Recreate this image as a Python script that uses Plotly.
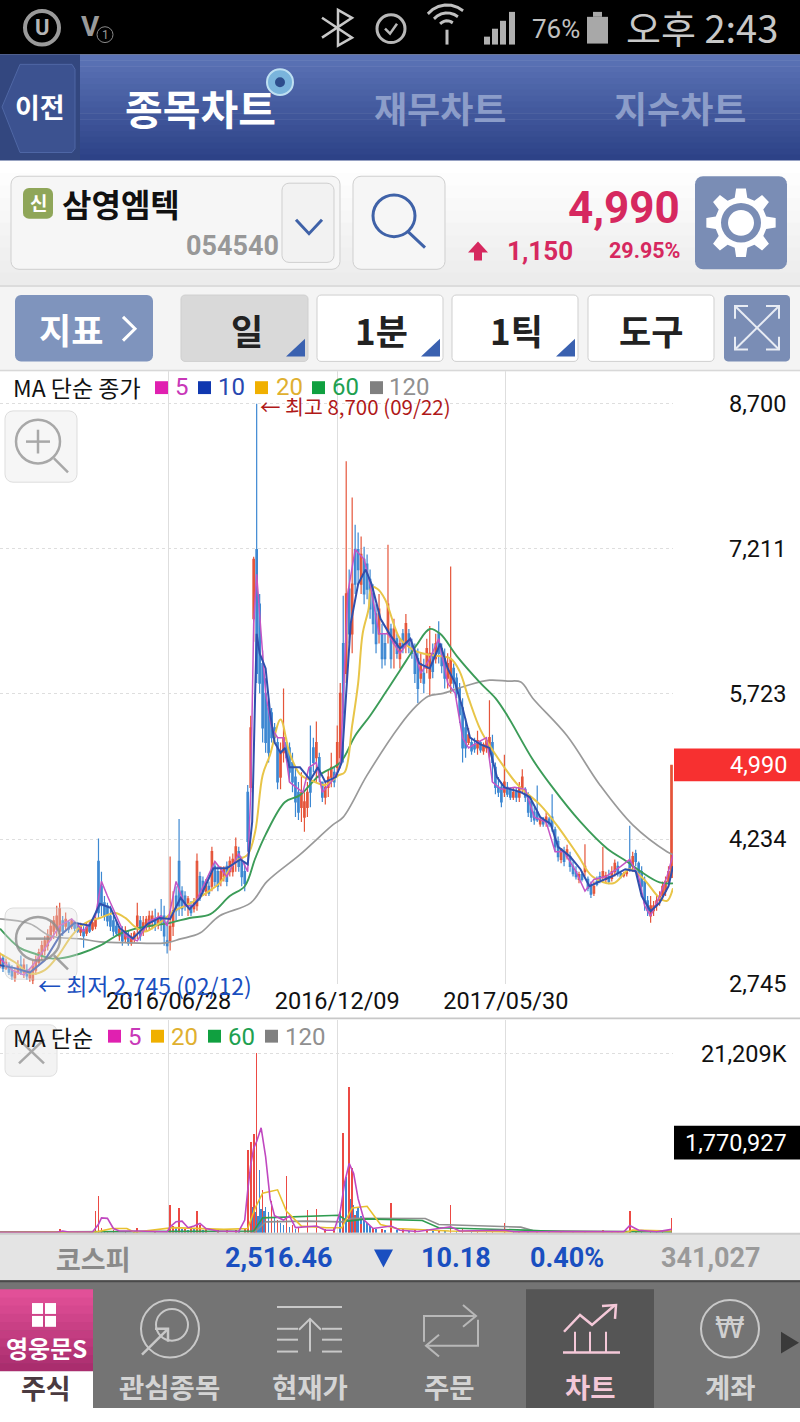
#!/usr/bin/env python3
# -*- coding: utf-8 -*-
import math

import plotly.graph_objects as go

KR = "Noto Sans CJK KR"
NUM = "Roboto, Noto Sans CJK KR"

# daily candles, one every second trading day
candle_days = list(range(0, 452, 2))
opens = [
    2940, 3010, 2910, 2940, 2890, 2810, 2870, 2940, 2870, 2890,
    2810, 2790, 2890, 2970, 3040, 3090, 3140, 3210, 3290, 3310,
    3290, 3395, 3340, 3380, 3340, 3380, 3355, 3280, 3290, 3270,
    3355, 3310, 3340, 4005, 3750, 3580, 3550, 3445, 3395, 3340,
    3240, 3290, 3210, 3240, 3170, 3210, 3340, 3395, 3290, 3340,
    3340, 3395, 3410, 3355, 3445, 3445, 3190, 3190, 3340, 3650,
    4005, 3700, 3650, 3550, 3550, 3520, 3550, 3850, 3800, 3700,
    3750, 3750, 3955, 3900, 3800, 3850, 3955, 3900, 3900, 4005,
    4105, 4005, 3900, 4715, 4765, 6495, 7205, 6645, 6035, 5730,
    5580, 5530, 5375, 5225, 4870, 5120, 5225, 5170, 5020, 4870,
    4715, 4560, 4460, 4560, 4970, 5170, 5070, 5070, 4820, 4665,
    4765, 4870, 4920, 4970, 5070, 6240, 5935, 6800, 6340, 7205,
    7205, 6850, 7105, 7055, 6900, 6750, 6545, 6340, 6340, 6240,
    6340, 6390, 6240, 6290, 6085, 6340, 6240, 6340, 6240, 6140,
    6085, 5885, 5935, 5985, 5885, 6140, 6085, 6340, 6190, 6085,
    5885, 5835, 5985, 5885, 5780, 5580, 5375, 5225, 5225, 5200,
    5170, 5225, 5140, 5170, 5120, 5225, 4970, 4765, 4765, 4715,
    4765, 4745, 4665, 4715, 4665, 4765, 4745, 4665, 4615, 4510,
    4510, 4390, 4430, 4410, 4440, 4460, 4330, 4210, 4025, 4105,
    4055, 4055, 3955, 3900, 3820, 3870, 3900, 3820, 3770, 3680,
    3800, 3850, 3850, 3820, 3850, 3830, 3900, 3955, 3880, 3860,
    3880, 4005, 3955, 4085, 3985, 3900, 3800, 3600, 3445, 3500,
    3550, 3600, 3650, 3700, 3800, 3840,
]
highs = [
    3070, 3040, 3010, 2970, 2940, 2910, 2990, 3040, 3010, 2950,
    2910, 2990, 3040, 3110, 3190, 3240, 3310, 3395, 3445, 3550,
    3580, 3445, 3480, 3395, 3420, 3395, 3375, 3375, 3340, 3375,
    3395, 3420, 3445, 4240, 3900, 3650, 3580, 3550, 3445, 3395,
    3340, 3340, 3340, 3290, 3270, 3290, 3580, 3445, 3445, 3445,
    3500, 3500, 3520, 3480, 3620, 3550, 3395, 4055, 3700, 3750,
    4440, 3750, 3700, 3650, 3600, 3630, 4085, 3900, 3850, 3825,
    3800, 4155, 4005, 3955, 3955, 3955, 4005, 4055, 4085, 4250,
    4155, 4055, 4005, 4790, 5500, 7130, 8700, 6750, 6170, 5885,
    5680, 5580, 5425, 5275, 5225, 5780, 5275, 5225, 5120, 4970,
    4820, 4920, 4715, 4820, 5400, 5275, 5440, 5120, 4820, 4820,
    4940, 5120, 4970, 5400, 5835, 6730, 8110, 7000, 7740, 7460,
    7380, 7340, 7235, 7155, 7000, 6850, 6645, 6750, 6445, 6340,
    7255, 6445, 6495, 6340, 6290, 6390, 6545, 6390, 6290, 6240,
    6190, 6140, 6085, 6290, 6420, 6240, 6340, 6470, 6240, 6190,
    6140, 7030, 6035, 5935, 5835, 5680, 5475, 5375, 5275, 5275,
    5345, 5245, 5225, 5275, 5660, 5305, 5020, 4870, 4820, 5100,
    4820, 4765, 4765, 4765, 4820, 4950, 4765, 4715, 4665, 4560,
    4785, 4460, 4460, 4510, 4460, 4695, 4360, 4260, 4135, 4155,
    4175, 4105, 4005, 3955, 3900, 3900, 4180, 3850, 3800, 3800,
    3850, 3900, 4155, 3900, 3920, 3955, 4025, 4005, 3900, 3900,
    3920, 4370, 4105, 4125, 4005, 3955, 3850, 3650, 3650, 3600,
    3650, 3700, 3800, 3850, 3955, 4990,
]
lows = [
    2910, 2870, 2890, 2840, 2790, 2770, 2840, 2840, 2810, 2790,
    2770, 2745, 2840, 2940, 2990, 3040, 3090, 3190, 3210, 3240,
    3240, 3240, 3290, 3270, 3310, 3290, 3270, 3240, 3120, 3240,
    3270, 3290, 3310, 3425, 3445, 3395, 3340, 3290, 3240, 3240,
    3190, 3140, 3170, 3140, 3140, 3170, 3210, 3190, 3240, 3290,
    3290, 3310, 3290, 3310, 3290, 3140, 3060, 3090, 3240, 3395,
    3445, 3445, 3500, 3445, 3445, 3480, 3500, 3600, 3650, 3650,
    3650, 3700, 3750, 3700, 3750, 3800, 3750, 3850, 3850, 3900,
    3900, 3750, 3700, 4105, 4715, 6260, 5835, 5730, 5225, 5120,
    5020, 5225, 5225, 4745, 4745, 5020, 5070, 4820, 4715, 4460,
    4430, 4410, 4310, 4460, 4560, 4920, 4820, 4820, 4615, 4590,
    4665, 4765, 4765, 4870, 4970, 5020, 5835, 6240, 6140, 6750,
    6850, 6750, 6645, 6695, 6495, 6340, 6140, 6240, 5985, 6015,
    6240, 5985, 5985, 6085, 5985, 6140, 6140, 6140, 6085, 5835,
    5630, 5835, 5730, 5935, 5700, 5885, 6035, 6035, 5935, 5780,
    5780, 5730, 5780, 5680, 5425, 5020, 5070, 5200, 5100, 5120,
    5100, 5120, 5100, 5120, 5070, 4820, 4695, 4665, 4560, 4665,
    4665, 4635, 4635, 4615, 4615, 4715, 4615, 4460, 4410, 4380,
    4410, 4360, 4360, 4360, 4360, 4310, 4105, 4005, 3985, 3955,
    4025, 3900, 3850, 3820, 3780, 3800, 3850, 3700, 3630, 3650,
    3750, 3780, 3800, 3780, 3770, 3800, 3850, 3850, 3830, 3840,
    3850, 3900, 3900, 3955, 3850, 3700, 3500, 3445, 3375, 3445,
    3500, 3550, 3600, 3650, 3750, 3840,
]
closes = [
    3010, 2910, 2970, 2870, 2830, 2870, 2940, 2870, 2940, 2830,
    2870, 2930, 2990, 3070, 3140, 3190, 3240, 3340, 3395, 3445,
    3520, 3290, 3410, 3310, 3395, 3320, 3290, 3340, 3240, 3330,
    3290, 3375, 3410, 3480, 3550, 3445, 3395, 3340, 3290, 3270,
    3310, 3190, 3290, 3170, 3230, 3270, 3445, 3240, 3375, 3410,
    3445, 3445, 3340, 3430, 3375, 3240, 3140, 3340, 3500, 3500,
    3550, 3520, 3580, 3620, 3480, 3580, 4005, 3650, 3700, 3780,
    3680, 4105, 3800, 3750, 3900, 3920, 3800, 4005, 4025, 4155,
    3955, 3850, 3780, 4210, 5375, 7105, 5935, 5835, 5375, 5225,
    5120, 5275, 5275, 4820, 5120, 5275, 5070, 4920, 4820, 4615,
    4510, 4715, 4615, 4715, 4715, 5020, 5225, 4870, 4665, 4765,
    4870, 4970, 4820, 5225, 5730, 5530, 6750, 6340, 6850, 6850,
    7000, 7155, 6750, 6800, 6595, 6445, 6240, 6595, 6085, 6085,
    6645, 6085, 6390, 6140, 6240, 6190, 6445, 6220, 6140, 5935,
    5780, 6035, 5835, 6190, 6140, 5955, 6240, 6140, 6015, 5885,
    6035, 6085, 5835, 5730, 5510, 5170, 5170, 5305, 5140, 5160,
    5245, 5150, 5200, 5245, 5275, 5020, 4765, 4715, 4615, 4820,
    4695, 4665, 4715, 4665, 4765, 4870, 4665, 4510, 4460, 4430,
    4430, 4430, 4390, 4460, 4390, 4360, 4155, 4055, 4135, 4005,
    4125, 3955, 3880, 3850, 3870, 3820, 3955, 3730, 3670, 3750,
    3770, 3810, 3900, 3860, 3800, 3900, 3985, 3880, 3850, 3880,
    3900, 3920, 4055, 4005, 3880, 3750, 3580, 3500, 3550, 3550,
    3600, 3650, 3750, 3800, 3900, 4990,
]

# moving averages on price
ma5_days = [0, 8, 16, 22, 30, 40, 48, 56, 64, 68, 72, 78, 84, 92, 100, 108, 112, 118, 124, 130,
            136, 144, 152, 160, 166, 168, 170, 172, 175, 178, 182, 186, 190, 194, 198, 203, 207, 212, 216, 222,
            228, 230, 233, 238, 244, 248, 254, 260, 268, 275, 282, 288, 294, 300, 305, 310, 314, 320, 326, 330,
            336, 345, 352, 358, 366, 372, 378, 386, 392, 398, 406, 416, 422, 428, 432, 436, 442, 447, 451]
ma5_vals = [3010, 2890, 2840, 2940, 3110, 3345, 3415, 3290, 3445, 3800, 3650, 3445, 3240, 3190, 3395, 3445, 3345, 3800, 3550, 3550,
            3750, 4005, 3850, 4085, 3900, 4715, 6445, 6950, 6340, 5730, 5375, 5275, 5275, 4820, 4770, 4715, 4970, 5020, 4715, 4820,
            4970, 5730, 6750, 7205, 7105, 6850, 6340, 6340, 6140, 6290, 5935, 6085, 6290, 5835, 5730, 5275, 5170, 5225, 5275, 4820,
            4745, 4765, 4745, 4460, 4410, 4105, 4105, 3900, 3700, 3820, 3850, 3955, 4025, 3850, 3550, 3445, 3650, 3850, 4075]

ma10_days = [0, 10, 20, 30, 40, 50, 60, 67, 74, 80, 89, 99, 107, 114, 121, 127, 134, 143, 152, 161,
             166, 169, 171, 172, 174, 178, 181, 184, 188, 191, 194, 201, 208, 213, 218, 225, 229, 231, 235, 240,
             245, 249, 255, 261, 268, 275, 281, 288, 295, 300, 305, 310, 315, 322, 328, 333, 338, 349, 355, 362,
             369, 374, 382, 389, 395, 402, 410, 419, 426, 430, 436, 442, 448, 451]
ma10_vals = [2940, 2910, 2865, 2990, 3240, 3375, 3345, 3570, 3530, 3325, 3215, 3365, 3425, 3415, 3630, 3515, 3630, 3935, 3935, 4025,
             3975, 4410, 5730, 6340, 6140, 5985, 5530, 5225, 5120, 5170, 4970, 4970, 4840, 4970, 4820, 4870, 5020, 5530, 6445, 6850,
             7000, 6850, 6495, 6340, 6190, 6290, 6035, 5985, 6240, 5985, 5835, 5580, 5275, 5205, 5170, 4870, 4765, 4715, 4665, 4460,
             4390, 4155, 4055, 3925, 3750, 3800, 3850, 3925, 3905, 3650, 3495, 3580, 3750, 3955]

ma20_days = [0, 10, 20, 30, 40, 47, 54, 60, 67, 77, 84, 90, 97, 107, 117, 127, 137, 147, 158, 166,
             171, 176, 181, 188, 194, 201, 208, 218, 227, 231, 236, 240, 243, 247, 249, 253, 258, 265, 268, 279,
             290, 302, 308, 314, 322, 330, 347, 362, 373, 387, 397, 411, 422, 431, 442, 447, 451]
ma20_vals = [3060, 2970, 2855, 2890, 3060, 3220, 3340, 3395, 3425, 3475, 3425, 3340, 3285, 3375, 3500, 3570, 3670, 3780, 4005, 4075,
             4310, 4890, 5100, 5460, 5120, 4900, 4840, 4790, 4890, 4920, 5400, 5835, 6340, 6595, 6820, 6800, 6695, 6390, 6290, 6160,
             6120, 6085, 5955, 5680, 5355, 5150, 4790, 4585, 4380, 4075, 3850, 3780, 3925, 3830, 3630, 3600, 3730]

ma60_days = [0, 13, 23, 34, 40, 54, 67, 80, 94, 114, 127, 141, 154, 164, 171, 178, 191, 201, 214, 228,
             238, 248, 258, 268, 279, 288, 295, 306, 322, 332, 340, 357, 369, 389, 407, 420, 429, 442, 451]
ma60_vals = [3315, 3120, 3060, 3010, 3010, 3060, 3140, 3260, 3325, 3375, 3425, 3465, 3650, 3750, 4035, 4280, 4615, 4685, 4890, 5020,
             5295, 5500, 5730, 5965, 6220, 6390, 6340, 6115, 5835, 5680, 5500, 5050, 4790, 4410, 4135, 4005, 3905, 3790, 3780]

ma120_days = [0, 20, 34, 54, 67, 87, 111, 121, 134, 147, 168, 179, 201, 223, 230, 246, 268, 279, 287, 297,
              313, 328, 340, 349, 357, 380, 402, 424, 447, 451]
ma120_vals = [3415, 3365, 3240, 3210, 3180, 3170, 3170, 3210, 3270, 3445, 3580, 3800, 4075, 4380, 4460, 4890, 5400, 5600, 5700, 5730,
              5810, 5865, 5855, 5845, 5680, 5295, 4790, 4380, 4105, 4075]

price_ticks = [2745, 4234, 5723, 7211, 8700]
price_tick_text = ["2,745", "4,234", "5,723", "7,211", "8,700"]
date_ticks = [113, 226, 339]
date_tick_text = ["2016/06/28", "2016/12/09", "2017/05/30"]

# volume, thousand shares
red_vol_days = [30, 40, 52, 64, 66, 68, 72, 76, 84, 92, 104, 114, 116, 120, 124, 128, 132, 134, 138, 146,
                152, 158, 164, 166, 168, 170, 172, 176, 178, 182, 186, 192, 196, 200, 206, 212, 218, 224, 230, 234,
                236, 238, 242, 250, 256, 262, 270, 278, 286, 294, 302, 310, 320, 330, 338, 348, 360, 376, 392, 404,
                414, 422, 426, 436, 444, 450]
red_vol = [150, 390, 120, 2540, 4300, 600, 250, 300, 180, 590, 150, 3320, 800, 2930, 500, 700, 2540, 900, 600, 300,
           350, 300, 500, 9770, 10740, 11720, 21209, 5000, 2000, 3710, 1500, 6760, 900, 700, 2730, 2850, 500, 600, 11800, 17190,
           7620, 2150, 1000, 600, 500, 3520, 500, 300, 400, 300, 3320, 400, 300, 200, 1170, 200, 250, 200, 150, 300,
           200, 2540, 300, 150, 200, 1771]
blue_vol_days = [60, 70, 90, 118, 122, 126, 130, 136, 160, 169, 171, 173, 174, 175, 176, 177, 178, 180, 182, 184,
                 186, 188, 190, 192, 194, 198, 228, 230, 232, 234, 235, 237, 239, 240, 242, 244, 246, 248, 252, 258,
                 266, 274, 290, 298, 306, 316, 326, 344, 354, 368, 384, 410, 430, 440]
blue_vol = [100, 300, 200, 600, 400, 300, 400, 300, 200, 3000, 2400, 2000, 7420, 2800, 3300, 2600, 3000, 2500, 2200, 1800,
            1300, 1100, 900, 800, 700, 500, 2500, 3000, 6640, 3000, 4000, 3300, 2600, 2900, 2000, 1700, 1200, 800, 500, 300,
            300, 200, 300, 200, 200, 150, 150, 150, 120, 120, 100, 150, 200, 100]

vol_ma5_days = [0, 38, 42, 46, 62, 66, 68, 72, 76, 80, 92, 112, 114, 118, 122, 126, 130, 134, 138, 146,
                160, 164, 166, 168, 170, 172, 175, 178, 181, 184, 190, 194, 198, 206, 212, 218, 224, 228, 231, 234,
                237, 240, 244, 250, 262, 268, 280, 302, 308, 338, 345, 418, 422, 428, 440, 450]
vol_ma5 = [60, 60, 200, 80, 100, 1000, 1760, 1700, 500, 200, 200, 100, 700, 1300, 1370, 600, 800, 1100, 500, 200,
           150, 1500, 5000, 8000, 10000, 10800, 12420, 9000, 4000, 2000, 1500, 2000, 600, 700, 800, 300, 300, 2500, 6000, 8200,
           7000, 4000, 1500, 500, 800, 300, 150, 700, 200, 300, 100, 100, 860, 300, 100, 400]
vol_ma20_days = [0, 65, 75, 85, 90, 116, 150, 166, 171, 176, 186, 192, 202, 219, 229, 236, 246, 255, 266, 301,
                 340, 420, 424, 437, 450]
vol_ma20 = [50, 100, 500, 500, 60, 600, 400, 500, 2930, 4690, 5080, 2540, 780, 590, 590, 2930, 3125, 980, 500, 200,
            100, 50, 310, 270, 200]
vol_ma60_days = [0, 65, 170, 176, 218, 227, 233, 246, 283, 294, 352, 376, 450]
vol_ma60 = [80, 100, 200, 1760, 2070, 2070, 1370, 1640, 1440, 590, 310, 120, 100]
vol_ma120_days = [0, 171, 178, 205, 229, 236, 285, 294, 349, 357, 450]
vol_ma120 = [60, 120, 1290, 1370, 1290, 1720, 1680, 980, 660, 270, 120]


def X(x):
    return x / 800


def Y(y):
    return 1 - y / 1422


shapes = []
annotations = []


def rect(x0, y0, x1, y1, fill, line=None, lw=1):
    shapes.append(dict(type="rect", xref="paper", yref="paper", x0=X(x0), x1=X(x1), y0=Y(y0), y1=Y(y1),
                       fillcolor=fill, line=dict(color=line or fill, width=lw if line else 0)))


def circle(cx, cy, r, fill="rgba(0,0,0,0)", line=None, lw=2):
    shapes.append(dict(type="circle", xref="paper", yref="paper", x0=X(cx - r), x1=X(cx + r), y0=Y(cy - r), y1=Y(cy + r),
                       fillcolor=fill, line=dict(color=line or fill, width=lw if line else 0)))


def poly(points, fill=None, line=None, lw=2):
    d = "M" + " L".join("%.5f %.5f" % (X(a), Y(b)) for a, b in points)
    if fill:
        d += " Z"
    shapes.append(dict(type="path", xref="paper", yref="paper", path=d, fillcolor=fill or "rgba(0,0,0,0)",
                       line=dict(color=line or fill, width=lw if line else 0)))


def rrect(x0, y0, x1, y1, r, fill, line=None, lw=1):
    pts = []
    for cx, cy, start in [(x1 - r, y0 + r, -90), (x1 - r, y1 - r, 0), (x0 + r, y1 - r, 90), (x0 + r, y0 + r, 180)]:
        for k in range(5):
            t = math.radians(start + k * 22.5)
            pts.append((cx + r * math.cos(t), cy + r * math.sin(t)))
    d = "M" + " L".join("%.5f %.5f" % (X(a), Y(b)) for a, b in pts) + " Z"
    shapes.append(dict(type="path", xref="paper", yref="paper", path=d, fillcolor=fill,
                       line=dict(color=line or fill, width=lw if line else 0)))


def grad(x0, y0, x1, y1, c0, c1, n=12):
    for k in range(n):
        f = k / (n - 1)
        col = "rgb(%d,%d,%d)" % tuple(round(a + (b - a) * f) for a, b in zip(c0, c1))
        rect(x0, y0 + (y1 - y0) * k / n, x1, y0 + (y1 - y0) * (k + 1) / n + 0.5, col)


def text(x, y, s, size=20, color="#111", anchor="center", bold=False, family=KR):
    annotations.append(dict(xref="paper", yref="paper", x=X(x), y=Y(y), text="<b>%s</b>" % s if bold else s,
                            showarrow=False, xanchor=anchor, yanchor="middle",
                            font=dict(family=family, size=size, color=color), borderpad=0, borderwidth=0))


# status bar
rect(0, 0, 800, 55, "#000000")
circle(42, 28, 17, line="#9a9a9a", lw=4)
text(42, 28, "U", 22, "#b5b5b5", bold=True, family=NUM)
text(90, 27, "V", 28, "#9a9a9a", bold=True, family=NUM)
circle(105, 35, 8, line="#8a8a8a", lw=1)
text(105, 35, "1", 12, "#9a9a9a", family=NUM)
poly([(322, 18), (352, 38), (338, 46), (338, 10), (352, 18), (322, 38)], line="#c8c8c8", lw=2.5)
circle(391, 29, 14, line="#b8b8b8", lw=3)
poly([(385, 29), (390, 34), (397, 24)], line="#b8b8b8", lw=2.5)
for r in (9, 17, 25):
    poly([(447 + r * math.cos(math.radians(a)), 30 + r * math.sin(math.radians(a))) for a in range(220, 325, 15)],
         line="#c0c0c0", lw=3)
poly([(447, 30), (447, 45)], line="#c0c0c0", lw=3)
for bx, bh in [(484, 8), (492, 16), (500, 24), (509, 33)]:
    rect(bx, 45 - bh, bx + 6, 45, "#b0b0b0")
text(556, 29, "76%", 26, "#c0c0c0", family=NUM)
rect(587, 17, 608, 44, "#a8a8a8")
rect(593, 12, 602, 17, "#a8a8a8")
text(702, 27, "오후 2:43", 38, "#c8c8c8")

# navigation bar
grad(0, 55, 800, 162, (91, 115, 182), (45, 66, 135), 18)
rect(0, 55, 80, 162, "#33477f")
poly([(20, 65), (72, 65), (75, 70), (75, 150), (72, 154), (20, 154), (2, 108)], fill="#3c5290", line="#4f67a5", lw=1)
text(40, 108, "이전", 27, "#ffffff", bold=True)
text(200, 108, "종목차트", 41, "#ffffff", bold=True)
circle(280, 83, 13, fill="#7ab4dc", line="#bfe0f2", lw=2)
circle(280, 83, 5, fill="#2d4d8c")
text(440, 108, "재무차트", 36, "#8c9dc9", bold=True)
text(680, 108, "지수차트", 36, "#8c9dc9", bold=True)

# symbol row
grad(0, 162, 800, 288, (255, 255, 255), (236, 236, 236), 10)
rrect(11, 178, 340, 272, 8, "#f6f6f6", "#cfcfcf")
rrect(23, 190, 53, 221, 6, "#8fa659")
text(38, 205, "신", 19, "#ffffff", bold=True)
text(62, 205, "삼영엠텍", 32, "#111111", "left", bold=True)
text(279, 248, "054540", 27, "#989898", "right", bold=True, family=NUM)
rrect(282, 185, 334, 265, 7, "#f2f2f2", "#cfcfcf")
poly([(296, 222), (309, 236), (322, 222)], line="#3f62a8", lw=3)
rrect(353, 178, 445, 272, 8, "#f6f6f6", "#cfcfcf")
circle(394, 218, 21, line="#3f62a8", lw=3)
poly([(408, 234), (425, 250)], line="#3f62a8", lw=3)
text(680, 210, "4,990", 44, "#d6285f", "right", bold=True, family=NUM)
poly([(478, 244), (488, 255), (482, 255), (482, 263), (474, 263), (474, 255), (468, 255)], fill="#d6285f")
text(573, 253, "1,150", 26, "#d6285f", "right", bold=True, family=NUM)
text(680, 253, "29.95%", 21.5, "#d6285f", "right", bold=True, family=NUM)
rrect(695, 178, 787, 272, 8, "#7a8db5")
gear = []
for k in range(8):
    base = k * 45
    for da, r in [(-14, 26), (-8, 35), (8, 35), (14, 26)]:
        t = math.radians(base + da)
        gear.append((741 + r * math.cos(t), 225 + r * math.sin(t)))
poly(gear, fill="#ffffff")
circle(741, 225, 20, fill="#7a8db5")
circle(741, 225, 13, fill="#ffffff")

# period row
rect(0, 288, 800, 375, "#f4f4f4")
rect(0, 288, 800, 289.5, "#d4d4d4")
rect(0, 373.5, 800, 375, "#d8d8d8")
rrect(15, 298, 153, 365, 6, "#7f94bd")
text(71, 332, "지표", 35, "#ffffff", bold=True)
poly([(123, 320), (135, 332), (123, 344)], line="#ffffff", lw=3)
buttons = [(181, 308, 247, "일", "#d9d9d9"), (317, 443, 381, "1분", "#ffffff"), (452, 578, 516, "1틱", "#ffffff"),
           (588, 714, 651, "도구", "#ffffff")]
for x0, x1, tx, label, col in buttons:
    rrect(x0, 298, x1, 365, 4, col, "#cfcfcf")
    text(tx, 333, label, 35, "#222222", bold=True)
    if label != "도구":
        poly([(x1 - 3, 342), (x1 - 3, 360), (x1 - 22, 360)], fill="#3a61b0")
rrect(724, 298, 790, 365, 4, "#7a8db5")
for a, b in [((735, 309), (779, 353)), ((779, 309), (735, 353))]:
    poly([a, b], line="#e8ecf4", lw=2)
for pts in ([(735, 322), (735, 309), (748, 309)], [(766, 309), (779, 309), (779, 322)],
            [(735, 340), (735, 353), (748, 353)], [(766, 353), (779, 353), (779, 340)]):
    poly(pts, line="#e8ecf4", lw=2)

# price panel legend and labels
text(13, 391, "MA 단순 종가", 23, "#111111", "left")
legend_main = [(155, 175, "5", "#e020b0", "#c838b8"), (198, 218, "10", "#1038b0", "#2848b0"),
               (255, 276, "20", "#f0b000", "#e0b030"), (312, 332, "60", "#10a040", "#20a050"),
               (370, 389, "120", "#808080", "#909090")]
for sq, tx, lab, c1, c2 in legend_main:
    rect(sq, 385, sq + 13, 398, c1)
    text(tx, 391, lab, 24, c2, "left", family=NUM)
text(260, 410, "← 최고 8,700 (09/22)", 20.5, "#b01818", "left")
text(38, 995, "← 최저 2,745 (02/12)", 23, "#1a4fc0", "left")

rrect(5, 415, 77, 487, 8, "rgba(245,245,245,0.9)", "#dddddd")
circle(38, 446, 22, line="#a8a8a8", lw=2.5)
poly([(26, 446), (50, 446)], line="#a8a8a8", lw=2.5)
poly([(38, 434), (38, 458)], line="#a8a8a8", lw=2.5)
poly([(54, 463), (68, 477)], line="#a8a8a8", lw=2.5)
rrect(5, 917, 77, 989, 8, "rgba(225,225,225,0.35)", "rgba(200,200,200,0.6)")
circle(38, 948, 22, line="rgba(140,140,140,0.8)", lw=2.5)
poly([(26, 948), (50, 948)], line="rgba(140,140,140,0.8)", lw=2.5)
poly([(54, 965), (68, 979)], line="rgba(140,140,140,0.8)", lw=2.5)

rect(674, 756, 800, 789, "#f73030")
text(787, 773, "4,990", 23.5, "#ffffff", "right", family=NUM)

rect(0, 1027.5, 800, 1029.5, "#c8c8c8")

# volume panel legend and labels
text(13, 1047, "MA 단순", 23, "#111111", "left")
legend_vol = [(108, 128, "5", "#e020b0", "#c838b8"), (151, 171, "20", "#f0b000", "#e0b030"),
              (208, 228, "60", "#10a040", "#20a050"), (265, 285, "120", "#808080", "#909090")]
for sq, tx, lab, c1, c2 in legend_vol:
    rect(sq, 1040, sq + 13, 1053, c1)
    text(tx, 1047, lab, 24, c2, "left", family=NUM)
rrect(5, 1035, 57, 1087, 7, "rgba(240,240,240,0.8)", "#e0e0e0")
poly([(19, 1050), (44, 1074)], line="#a8a8a8", lw=2.5)
poly([(44, 1050), (19, 1074)], line="#a8a8a8", lw=2.5)
rect(674, 1137, 800, 1171, "#000000")
text(787, 1154, "1,770,927", 23.5, "#ffffff", "right", family=NUM)

# ticker strip
rect(0, 1246, 800, 1293, "#e4e4e4")
rect(0, 1245, 800, 1247, "#cccccc")
text(93, 1271, "코스피", 27, "#8a8a8a", bold=True)
text(278, 1271, "2,516.46", 27, "#1a4fc0", bold=True, family=NUM)
poly([(374, 1262), (393, 1262), (383.5, 1280)], fill="#1a4fc0")
text(456, 1271, "10.18", 27, "#1a4fc0", bold=True, family=NUM)
text(567, 1271, "0.40%", 27, "#1a4fc0", bold=True, family=NUM)
text(711, 1271, "341,027", 27, "#9a9a9a", bold=True, family=NUM)

# bottom menu
rect(0, 1293, 800, 1422, "#747474")
rect(0, 1293, 800, 1295, "#4a4a4a")
rect(526, 1302, 654, 1422, "#555555")
grad(0, 1302, 93, 1385, (226, 80, 152), (170, 45, 110), 10)
rect(0, 1385, 93, 1422, "#ffffff")
for sx in (32, 45):
    for sy in (1316, 1329):
        rect(sx, sy, sx + 11, sy + 11, "#ffffff")
text(46, 1361, "영웅문S", 24, "#ffffff", bold=True)
text(46, 1401, "주식", 27, "#4a3a40", bold=True)
menu_labels = [(169, "관심종목", "#d4d4d4"), (310, "현재가", "#d4d4d4"), (449, "주문", "#d4d4d4"),
               (590, "차트", "#f4c8d8"), (730, "계좌", "#d4d4d4")]
for mx, lab, col in menu_labels:
    text(mx, 1400, lab, 27.5, col, bold=True)
circle(170, 1342, 29, line="#c8c8c8", lw=2)
circle(172, 1338, 16, line="#c8c8c8", lw=2)
poly([(142, 1368), (168, 1342)], line="#c8c8c8", lw=2.5)
poly([(155, 1342), (168, 1342), (168, 1355)], line="#c8c8c8", lw=2.5)
for ly in (1320, 1342, 1365):
    poly([(277, ly), (342, ly)] if ly == 1320 else [(277, ly), (298, ly)], line="#c8c8c8", lw=2)
    if ly != 1320:
        poly([(322, ly), (342, ly)], line="#c8c8c8", lw=2)
poly([(277, 1353), (298, 1353)], line="#c8c8c8", lw=2)
poly([(322, 1353), (342, 1353)], line="#c8c8c8", lw=2)
poly([(310, 1365), (310, 1332)], line="#c8c8c8", lw=2)
poly([(299, 1343), (310, 1332), (321, 1343)], line="#c8c8c8", lw=2)
poly([(424, 1355), (424, 1329), (474, 1329)], line="#b8b8b8", lw=2)
poly([(463, 1318), (476, 1329), (463, 1340)], line="#b8b8b8", lw=2)
poly([(478, 1333), (478, 1359), (428, 1359)], line="#b8b8b8", lw=2)
poly([(439, 1348), (426, 1359), (439, 1370)], line="#b8b8b8", lw=2)
poly([(563, 1366), (620, 1366)], line="#f4c8d8", lw=2.5)
for bx in (575, 590, 606):
    poly([(bx, 1366), (bx, 1345)], line="#f4c8d8", lw=2)
poly([(564, 1345), (580, 1328), (592, 1338), (615, 1318)], line="#f4c8d8", lw=2.5)
poly([(602, 1319), (616, 1318), (615, 1332)], line="#f4c8d8", lw=2.5)
circle(730, 1342, 29, line="#c8c8c8", lw=2)
text(730, 1341, "₩", 30, "#d0d0d0", family="DejaVu Sans")
poly([(781, 1345), (799, 1356), (781, 1367)], fill="#3a3a3a")

RED = "#e5553a"
BLUE = "#3d88d2"

fig = go.Figure()
fig.add_trace(go.Candlestick(
    x=candle_days, open=opens, high=highs, low=lows, close=closes, xaxis="x", yaxis="y",
    increasing=dict(line=dict(color=RED, width=1.2), fillcolor=RED),
    decreasing=dict(line=dict(color=BLUE, width=1.2), fillcolor=BLUE),
    whiskerwidth=0, showlegend=False, hoverinfo="skip"))

for days, vals, col, w, kind in [
    (ma120_days, ma120_vals, "#9a9a9a", 1.7, "spline"),
    (ma60_days, ma60_vals, "#3c9c58", 1.9, "spline"),
    (ma20_days, ma20_vals, "#e8c548", 2, "spline"),
    (ma5_days, ma5_vals, "#c455c4", 1.5, "linear"),
    (ma10_days, ma10_vals, "#2f50ad", 2, "linear"),
]:
    fig.add_trace(go.Scatter(x=days, y=vals, mode="lines", line=dict(color=col, width=w, shape=kind),
                             xaxis="x", yaxis="y", showlegend=False, hoverinfo="skip"))

fig.add_trace(go.Bar(x=blue_vol_days, y=blue_vol, width=1.1, marker=dict(color=BLUE, line=dict(width=0)),
                     xaxis="x2", yaxis="y2", showlegend=False, hoverinfo="skip"))
fig.add_trace(go.Bar(x=red_vol_days, y=red_vol, width=1.1, marker=dict(color="#ec4a44", line=dict(width=0)),
                     xaxis="x2", yaxis="y2", showlegend=False, hoverinfo="skip"))
for days, vals, col in [
    (vol_ma120_days, vol_ma120, "#8f8f8f"),
    (vol_ma60_days, vol_ma60, "#2f9c50"),
    (vol_ma20_days, vol_ma20, "#e8c030"),
    (vol_ma5_days, vol_ma5, "#c048c0"),
]:
    fig.add_trace(go.Scatter(x=days, y=vals, mode="lines", line=dict(color=col, width=1.6),
                             xaxis="x2", yaxis="y2", showlegend=False, hoverinfo="skip"))

GRID = "#dedede"
fig.update_layout(
    width=800, height=1422, autosize=False,
    margin=dict(l=0, r=0, t=0, b=0),
    paper_bgcolor="#ffffff", plot_bgcolor="#ffffff",
    barmode="overlay", bargap=0, dragmode=False,
    shapes=shapes, annotations=annotations,
    xaxis=dict(domain=[0, 673 / 800], range=[0, 451], anchor="y", tickmode="array", tickvals=date_ticks,
               ticktext=date_tick_text, tickfont=dict(family=NUM, size=23.5, color="#111111"),
               showgrid=True, gridcolor=GRID, gridwidth=1, zeroline=False, showline=False, ticks="",
               rangeslider=dict(visible=False)),
    yaxis=dict(domain=[Y(994), Y(375)], range=[2745, 9034], anchor="x", side="right", tickmode="array",
               tickvals=price_ticks, ticktext=price_tick_text, ticklabelstandoff=55,
               tickfont=dict(family=NUM, size=23.5, color="#111111"), showgrid=True, gridcolor=GRID,
               griddash="dot", zeroline=False, showline=False, ticks=""),
    xaxis2=dict(domain=[0, 673 / 800], range=[0, 451], anchor="y2", tickmode="array", tickvals=date_ticks,
                showticklabels=False, showgrid=True, gridcolor=GRID, zeroline=False, showline=False, ticks=""),
    yaxis2=dict(domain=[Y(1245), Y(1030)], range=[0, 25190], anchor="x2", side="right", tickmode="array",
                tickvals=[21209], ticktext=["21,209K"], ticklabelstandoff=27,
                tickfont=dict(family=NUM, size=23.5, color="#111111"), showgrid=True, gridcolor=GRID,
                griddash="dot", zeroline=False, showline=False, ticks=""),
)

fig.write_html("out.html", config=dict(displayModeBar=False, staticPlot=True),
               post_script="document.body.style.margin='0';document.documentElement.style.overflow='hidden';")
